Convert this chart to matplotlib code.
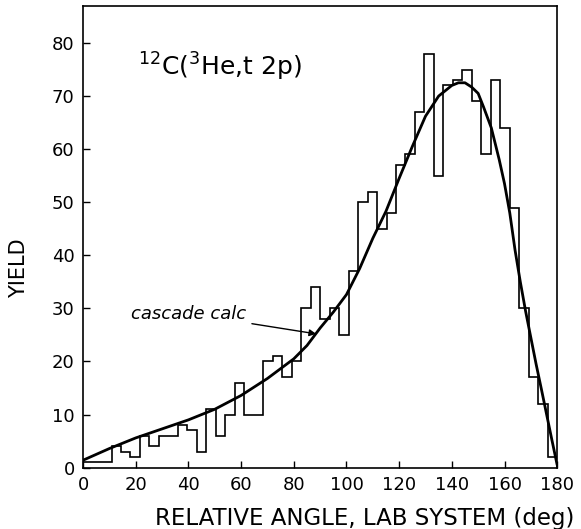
import numpy as np
import matplotlib
matplotlib.use("Agg")
import matplotlib.pyplot as plt

# histogram counts, 3.6 deg bins from 0 to 180
bin_width = 3.6
yields = [1, 1, 1, 4, 3, 2, 6, 4, 6, 6,
          8, 7, 3, 11, 6, 10, 16, 10, 10, 20,
          21, 17, 20, 30, 34, 28, 30, 25, 37, 50,
          52, 45, 48, 57, 59, 67, 78, 55, 72, 73,
          75, 69, 59, 73, 64, 49, 30, 17, 12, 2]

# cascade calculation curve
calc_angle = [0, 10, 20, 30, 40, 50, 60, 70, 80, 85, 90, 95, 100, 105,
              110, 115, 120, 125, 130, 135, 140, 142.5, 145, 147.5, 150,
              152, 155, 158, 160, 162, 164, 166, 168, 170, 172, 174,
              176, 178, 180]
calc_yield = [1.4, 3.6, 5.6, 7.3, 9.0, 11.0, 13.6, 16.8, 20.5, 23.0, 26.3,
              29.3, 32.6, 37.5, 43.2, 48.3, 54.5, 60.5, 66.2, 70.0, 72.0,
              72.5, 72.5, 71.7, 70.5, 68.0, 64.0, 58.0, 53.5, 48.0, 41.0,
              35.0, 29.5, 24.5, 19.5, 14.8, 10.0, 5.2, 0.5]

x_ticks = [0, 20, 40, 60, 80, 100, 120, 140, 160, 180]
y_ticks = [0, 10, 20, 30, 40, 50, 60, 70, 80]

fig = plt.figure(figsize=(5.81, 5.29), dpi=100)
ax = fig.add_axes([0.143, 0.116, 0.816, 0.873])

edges = np.arange(len(yields) + 1) * bin_width
ax.stairs(yields, edges, color="black", linewidth=1.2)
ax.plot(calc_angle, calc_yield, color="black", linewidth=2.0,
        solid_capstyle="round")

ax.set_xlim(0, 180)
ax.set_ylim(0, 87)
ax.set_xticks(x_ticks)
ax.set_yticks(y_ticks)
ax.tick_params(direction="in", length=5, width=1.0, labelsize=13, pad=6)
for s in ax.spines.values():
    s.set_linewidth(1.2)

ax.set_xlabel("RELATIVE ANGLE, LAB SYSTEM (deg)", fontsize=16.5)
ax.xaxis.set_label_coords(0.594, -0.085)
ax.set_ylabel("YIELD", fontsize=15)
ax.yaxis.set_label_coords(-0.115, 0.432)

ax.text(21, 75.5, r"$^{12}$C($^{3}$He,t 2p)", fontsize=18,
        ha="left", va="center")

ax.annotate("cascade calc", xy=(88.5, 25.2), xytext=(62, 29),
            fontsize=13, style="italic", ha="right", va="center",
            arrowprops=dict(arrowstyle="-|>", color="black", lw=1.0,
                            mutation_scale=10, shrinkA=2, shrinkB=0))

fig.savefig("out.png", dpi=100, facecolor="white")
